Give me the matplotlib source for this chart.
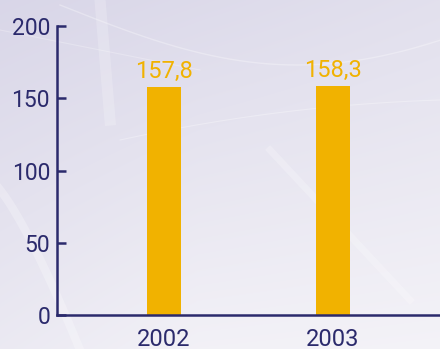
import numpy as np
import matplotlib
matplotlib.use("Agg")
import matplotlib.pyplot as plt

# Data
years = ["2002", "2003"]
values = [157.8, 158.3]
value_labels = ["157,8", "158,3"]
y_ticks = [0, 50, 100, 150, 200]

NAVY = "#2b2a6c"
GOLD = "#f1b200"

plt.rcParams["font.family"] = ["Roboto", "DejaVu Sans"]

W, H = 440, 349
fig = plt.figure(figsize=(W / 100, H / 100), dpi=100)

# Soft lavender backdrop with light streaks
bg = fig.add_axes([0, 0, 1, 1], zorder=0)
yy, xx = np.mgrid[0:1:H * 1j, 0:1:W * 1j]
d = np.clip(0.55 * yy + 0.35 * xx + 0.25 * (1 - np.abs(xx - 0.45)) * yy, 0, 1)
top = np.array([0.85, 0.84, 0.91])
bottom = np.array([0.955, 0.95, 0.97])
img = top[None, None, :] * (1 - d[..., None]) + bottom[None, None, :] * d[..., None]
bg.imshow(img, extent=[0, W, H, 0], aspect="auto", interpolation="bilinear")
t = np.linspace(0, 1, 200)
bg.plot(-10 + 90 * t, 180 + 170 * t ** 1.3, color="white", lw=6, alpha=0.25)
bg.plot(270 + 140 * t, 150 + 150 * t, color="white", lw=5, alpha=0.22)
bg.plot(100 + 10 * t, 0 + 120 * t, color="white", lw=8, alpha=0.2)
bg.plot(60 + 380 * t, 5 + 60 * np.sin(np.pi * t * 0.8), color="white", lw=1.0, alpha=0.3)
bg.plot(120 + 320 * t, 140 - 70 * t + 30 * t ** 2, color="white", lw=0.8, alpha=0.3)
bg.plot(0 + 200 * t, 30 + 40 * t, color="white", lw=0.8, alpha=0.25)
bg.set_xlim(0, W)
bg.set_ylim(H, 0)
bg.axis("off")

# Chart area
x0, x1 = 57, 440
ytop, ybot = 26, 315
ax = fig.add_axes([x0 / W, (H - ybot) / H, (x1 - x0) / W, (ybot - ytop) / H], zorder=1)
ax.patch.set_alpha(0)

pos = np.arange(len(years))
px_per_unit = 168.5
ax.set_xlim(-(164 - x0) / px_per_unit, 1 + (x1 - 332.5) / px_per_unit)
ax.set_ylim(0, 200)

bars = ax.bar(pos, values, width=34 / px_per_unit, color=GOLD, zorder=2, clip_on=False)
for b, v, lab in zip(bars, values, value_labels):
    ax.annotate(lab, (b.get_x() + b.get_width() / 2, v), xytext=(0, 3),
                textcoords="offset points", ha="center", va="bottom",
                color=GOLD, fontsize=17)

for side in ("top", "right"):
    ax.spines[side].set_visible(False)
for side in ("left", "bottom"):
    ax.spines[side].set_color(NAVY)
    ax.spines[side].set_linewidth(1.8)
ax.spines["left"].set_zorder(3)
ax.spines["bottom"].set_zorder(3)

ax.set_yticks(y_ticks)
ax.set_yticklabels([str(v) for v in y_ticks])
ax.tick_params(axis="y", direction="in", length=6.5, width=1.8, color=NAVY,
               labelcolor=NAVY, labelsize=16.5, pad=5)
ax.set_xticks(pos)
ax.set_xticklabels(years)
ax.tick_params(axis="x", length=0, labelcolor=NAVY, labelsize=17, pad=9)

fig.savefig("out.png", dpi=100)
